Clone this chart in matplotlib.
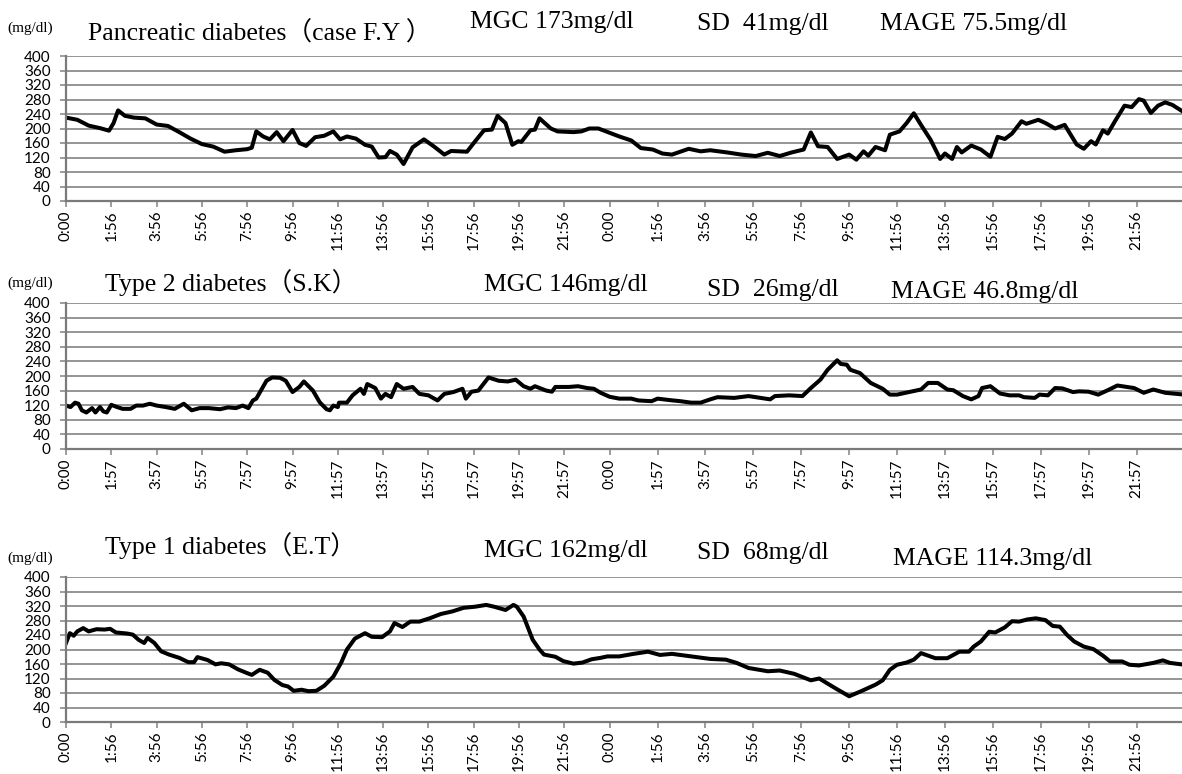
import matplotlib
matplotlib.use("Agg")
import numpy as np
import matplotlib.pyplot as plt

# ---- data: hours from start of recording (2 days), glucose in mg/dl ----
fy_hours = [0, 0.5, 1.0, 1.5, 1.9, 2.1, 2.3, 2.6, 3.0, 3.5, 4.0, 4.5, 5.0, 5.5, 6.0, 6.5, 7.0, 7.5,
            8.0, 8.2, 8.4, 8.7, 9.0, 9.3, 9.6, 10.0, 10.3, 10.6, 11.0, 11.4, 11.8, 12.1, 12.4, 12.8,
            13.2, 13.5, 13.8, 14.1, 14.3, 14.6, 14.9, 15.3, 15.8, 16.25, 16.7, 17.0, 17.7, 18.0,
            18.45, 18.8, 19.05, 19.4, 19.7, 19.97, 20.1, 20.5, 20.7, 20.9, 21.4, 21.7, 22.4, 22.75,
            23.1, 23.5, 24.0, 24.4, 24.9, 25.3, 25.8, 26.2, 26.6, 27.3, 27.8, 28.2, 28.9, 29.5,
            30.1, 30.6, 31.1, 31.6, 32.1, 32.4, 32.7, 33.1, 33.5, 34.0, 34.3, 34.6, 34.8, 35.1,
            35.5, 35.7, 36.1, 36.4, 36.7, 37.0, 37.4, 37.8, 38.0, 38.3, 38.5, 38.7, 39.1, 39.5,
            39.9, 40.2, 40.5, 40.8, 41.2, 41.4, 41.9, 42.2, 42.6, 43.0, 43.5, 43.8, 44.1, 44.3,
            44.6, 44.8, 45.1, 45.5, 45.8, 46.1, 46.3, 46.6, 46.9, 47.2, 47.5, 48.0]
fy_glucose = [230, 224, 208, 201, 194, 215, 250, 235, 230, 228, 211, 207, 190, 172, 157, 150, 136, 140,
              143, 147, 192, 178, 170, 190, 165, 196, 160, 152, 176, 180, 192, 170, 178, 172,
              155, 150, 120, 121, 138, 128, 102, 148, 170, 150, 128, 138, 136, 160,
              195, 197, 235, 215, 155, 165, 163, 195, 197, 228, 200, 192, 190, 192,
              200, 200, 188, 178, 167, 146, 142, 131, 128, 144, 137, 140, 134, 128,
              124, 133, 124, 134, 142, 189, 151, 149, 116, 128, 114, 137, 125, 149,
              140, 183, 192, 215, 242, 210, 169, 116, 131, 116, 149, 134, 153, 142,
              122, 177, 171, 186, 220, 213, 224, 215, 200, 210, 156, 144, 165, 156,
              195, 186, 220, 263, 259, 281, 277, 243, 263, 272, 265, 244]

sk_hours = [0, 0.2, 0.4, 0.55, 0.7, 0.9, 1.15, 1.3, 1.5, 1.65, 1.8, 2.0, 2.25, 2.5, 2.85, 3.1, 3.4,
            3.7, 4.0, 4.4, 4.8, 5.2, 5.55, 5.9, 6.3, 6.8, 7.15, 7.5, 7.8, 8.05, 8.25, 8.4, 8.6, 8.85,
            9.1, 9.45, 9.7, 10.0, 10.3, 10.5, 10.9, 11.2, 11.5, 11.65, 11.8, 12.0, 12.05, 12.4,
            12.65, 13.0, 13.15, 13.3, 13.65, 13.9, 14.1, 14.35, 14.6, 14.9, 15.3, 15.6, 16.0, 16.4,
            16.7, 17.1, 17.5, 17.65, 17.9, 18.2, 18.65, 19.1, 19.5, 19.85, 20.2, 20.5, 20.7, 21.2,
            21.45, 21.6, 22.2, 22.6, 23.0, 23.3, 23.6, 24.0, 24.4, 24.9, 25.2, 25.75, 26.0, 26.5,
            26.95, 27.4, 27.8, 28.2, 28.5, 29.2, 29.8, 30.3, 30.7, 30.9, 31.5, 32.05, 32.4, 32.8,
            33.1, 33.5, 33.65, 33.9, 34.05, 34.45, 34.9, 35.4, 35.7, 36.0, 36.5, 37.0, 37.3, 37.7,
            38.1, 38.35, 38.75, 39.1, 39.4, 39.55, 39.9, 40.3, 40.7, 41.1, 41.3, 41.75, 41.95,
            42.3, 42.6, 42.9, 43.35, 43.6, 44.0, 44.4, 44.8, 45.2, 45.6, 45.9, 46.3, 46.7, 47.2,
            48.0]
sk_glucose = [119, 115, 127, 124, 106, 100, 112, 100, 115, 103, 100, 121, 115, 110, 110, 119, 119,
              124, 119, 115, 110, 124, 106, 112, 112, 109, 114, 112, 119, 112, 133, 138, 160, 187,
              196, 195, 187, 156, 170, 185, 160, 128, 109, 106, 119, 115, 127, 127,
              147, 165, 151, 178, 167, 138, 151, 142, 178, 165, 170, 151, 147, 133,
              151, 156, 165, 138, 157, 160, 196, 187, 185, 190, 172, 165, 172, 160,
              157, 170, 170, 172, 167, 165, 154, 143, 138, 138, 133, 131, 138, 134,
              131, 127, 127, 136, 142, 140, 145, 140, 136, 145, 147, 145, 167, 190,
              217, 243, 233, 231, 217, 208, 181, 165, 149, 149, 156, 163, 181, 181,
              163, 161, 145, 136, 145, 167, 172, 152, 147, 147, 142, 140, 149,
              147, 167, 166, 156, 158, 157, 149, 161, 174, 170, 167, 154, 163, 154,
              149]

et_hours = [0, 0.17, 0.34, 0.5, 0.76, 1.0, 1.35, 1.7, 1.95, 2.2, 2.7, 2.95, 3.2, 3.45, 3.6, 3.9, 4.2,
            4.55, 5.0, 5.4, 5.65, 5.8, 6.25, 6.6, 6.85, 7.2, 7.6, 7.95, 8.2, 8.55, 8.9, 9.2, 9.55,
            9.8, 10.05, 10.4, 10.7, 11.05, 11.4, 11.8, 12.15, 12.4, 12.75, 13.2, 13.5, 13.95, 14.3,
            14.5, 14.85, 15.2, 15.6, 16.05, 16.55, 17.05, 17.55, 18.05, 18.55, 18.9, 19.4, 19.75,
            19.9, 20.2, 20.4, 20.6, 20.9, 21.1, 21.6, 21.95, 22.4, 22.8, 23.2, 23.6, 23.9, 24.4,
            25.0, 25.6, 26.1, 26.6, 27.4, 28.2, 28.85, 29.3, 29.8, 30.6, 31.1, 31.7, 32.4, 32.75,
            33.4, 34.0, 34.5, 35.1, 35.4, 35.7, 36.0, 36.4, 36.7, 37.0, 37.6, 38.1, 38.6, 39.0,
            39.2, 39.5, 39.85, 40.1, 40.5, 40.8, 41.1, 41.45, 41.8, 42.2, 42.5, 42.8, 43.1, 43.4,
            43.8, 44.2, 44.6, 44.9, 45.4, 45.7, 46.1, 46.7, 47.1, 47.4, 48.0]
et_glucose = [218, 245, 238, 250, 259, 250, 256, 255, 257, 247, 244, 241, 227, 218, 232, 218, 195,
              186, 177, 165, 165, 179, 171, 159, 162, 159, 145, 136, 130, 144, 136, 116, 102,
              98, 86, 89, 85, 86, 100, 125, 164, 200, 230, 245, 235, 234, 250,
              273, 262, 277, 277, 286, 298, 305, 315, 318, 323, 318, 309, 323,
              318, 291, 259, 227, 200, 186, 180, 168, 161, 164, 173, 177, 181, 181,
              188, 194, 185, 188, 181, 174, 172, 163, 149, 140, 142, 133, 115, 120,
              94, 71, 85, 103, 115, 144, 158, 164, 172, 190, 176, 176, 194, 194,
              208, 222, 249, 247, 261, 278, 277, 283, 286, 281, 265, 263, 240, 222,
              208, 201, 183, 167, 167, 158, 156, 163, 170, 163, 158]

day_ticks_fy = ["0:00", "1:56", "3:56", "5:56", "7:56", "9:56", "11:56", "13:56",
                "15:56", "17:56", "19:56", "21:56"]
day_ticks_sk = ["0:00", "1:57", "3:57", "5:57", "7:57", "9:57", "11:57", "13:57",
                "15:57", "17:57", "19:57", "21:57"]
yticks = [0, 40, 80, 120, 160, 200, 240, 280, 320, 360, 400]

panels = [
    (fy_hours, fy_glucose, day_ticks_fy * 2, "Pancreatic diabetes（case F.Y ）",
     "MGC 173mg/dl", "SD  41mg/dl", "MAGE 75.5mg/dl"),
    (sk_hours, sk_glucose, day_ticks_sk * 2, "Type 2 diabetes（S.K）",
     "MGC 146mg/dl", "SD  26mg/dl", "MAGE 46.8mg/dl"),
    (et_hours, et_glucose, day_ticks_fy * 2, "Type 1 diabetes（E.T）",
     "MGC 162mg/dl", "SD  68mg/dl", "MAGE 114.3mg/dl"),
]

W, H = 1182, 774
boxes = [(56, 201), (303, 449), (577, 722)]
# text baselines in pixels (x, y): unit, title, MGC, SD, MAGE
text_pos = [
    [(7, 32), (88, 41), (470, 28), (697, 30), (880, 30)],
    [(7, 287), (105, 291), (484, 291), (707, 296), (891, 298)],
    [(7, 562), (105, 554), (484, 557), (697, 559), (893, 565)],
]

# the second day is drawn a bit wider than the first in the source chart
stretch = 1.057


def fwd(h):
    h = np.asarray(h, dtype=float)
    return np.where(h <= 24, h, 24 + (h - 24) * stretch)


def inv(x):
    x = np.asarray(x, dtype=float)
    return np.where(x <= 24, x, 24 + (x - 24) / stretch)


serif = ["Liberation Serif", "Noto Sans CJK JP"]
grid_c = "#8c8c8c"
left_px = 66

fig = plt.figure(figsize=(W / 100, H / 100), dpi=100)

for (hrs, glu, labels, title, mgc, sd, mage), (top, bot), tp in zip(panels, boxes, text_pos):
    ax = fig.add_axes([left_px / W, 1 - bot / H, 1 - left_px / W, (bot - top) / H])
    ax.set_xscale("function", functions=(fwd, inv))
    ax.plot(hrs, glu, color="black", lw=2.9, solid_joinstyle="round")
    ax.set_xlim(0, 47.9)
    ax.set_ylim(0, 400)
    ax.set_yticks(yticks)
    ax.set_xticks(range(0, 48, 2))
    ax.set_xticklabels(labels, rotation=90)
    ax.xaxis.set_minor_locator(plt.NullLocator())
    ax.tick_params(axis="both", labelsize=11, colors=grid_c, labelcolor="black",
                   length=4, width=1.2)
    ax.tick_params(axis="y", pad=7)
    ax.tick_params(axis="x", pad=3)
    ax.yaxis.grid(True, color=grid_c, lw=1.3)
    ax.set_axisbelow(True)
    for s in ["top", "right"]:
        ax.spines[s].set_visible(False)
    for s in ["left", "bottom"]:
        ax.spines[s].set_color("#7a7a7a")
        ax.spines[s].set_linewidth(1.6)
    for lbl in ax.get_xticklabels() + ax.get_yticklabels():
        lbl.set_family("Lato")

    strings = ["(mg/dl)", title, mgc, sd, mage]
    sizes = [11, 18.5, 18.5, 18.5, 18.5]
    for s, (px, py), fs in zip(strings, tp, sizes):
        fig.text(px / W, 1 - py / H, s, family=serif, fontsize=fs, va="baseline", ha="left")

fig.savefig("out.png", dpi=100)
